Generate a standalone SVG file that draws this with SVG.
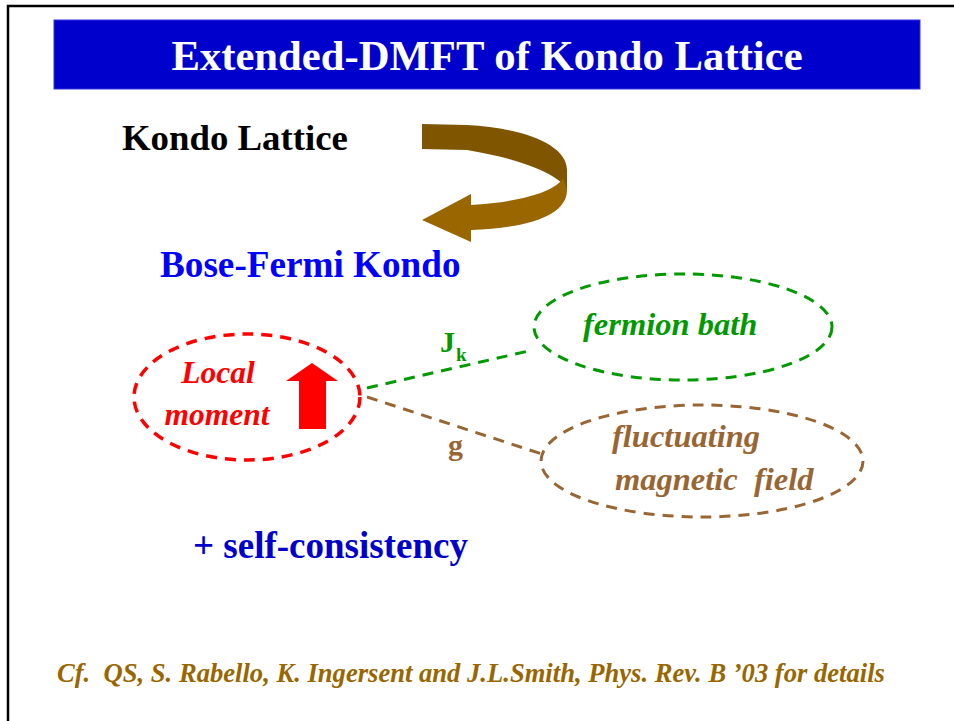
<svg xmlns="http://www.w3.org/2000/svg" width="954" height="721" viewBox="0 0 954 721">
<style>
.serif{font-family:"Liberation Serif","Times New Roman",serif;font-weight:bold}
.it{font-style:italic}
.dash{fill:none;stroke-dasharray:11 8}
</style>
<rect width="954" height="721" fill="#ffffff"/>
<path d="M8,721 L8,6 L954,6" fill="none" stroke="#000000" stroke-width="2.5"/>
<g id="title">
<rect x="54" y="20" width="866" height="69" fill="#0000CC" stroke="#3333DD" stroke-width="1"/>
<text x="487" y="70" class="serif" font-size="42.7" fill="#ffffff" text-anchor="middle">Extended-DMFT of Kondo Lattice</text>
</g>
<g id="kondo-lattice">
<text x="122" y="150" class="serif" font-size="36.8" fill="#000000">Kondo Lattice</text>
</g>
<g id="curved-arrow">
<path d="M422,124 L467,125 C525,128 567,145 567,170 L567,192 C567,182 540,162 467,150 L422,149 Z" fill="#7F5500"/>
<path d="M471,205 C520,202 555,192 563,178 L567,190 C567,215 530,228 471,230 L471,242 L422,220 L471,194 Z" fill="#996600"/>
</g>
<g id="bose-fermi">
<text x="160" y="277" class="serif" font-size="37.2" fill="#0000FF">Bose-Fermi Kondo</text>
</g>
<g id="connectors">
<line x1="367" y1="388" x2="533" y2="350" class="dash" stroke="#009900" stroke-width="3"/>
<line x1="367" y1="397" x2="542" y2="454" class="dash" stroke="#996633" stroke-width="3"/>
<text x="440" y="352" class="serif" font-size="30" fill="#009900">J</text>
<text x="456" y="361" class="serif" font-size="19" fill="#009900">k</text>
<text x="448" y="455" class="serif" font-size="30" fill="#996633">g</text>
</g>
<g id="local-moment">
<ellipse cx="247" cy="397" rx="113" ry="63" class="dash" stroke="#FF0000" stroke-width="3.5"/>
<text x="218" y="383" class="serif it" font-size="31.5" fill="#FF0000" text-anchor="middle">Local</text>
<text x="217" y="425" class="serif it" font-size="31.5" fill="#FF0000" text-anchor="middle">moment</text>
<path d="M312,363 L338,381 L326,381 L326,429 L299,429 L299,381 L286,381 Z" fill="#FF0000"/>
</g>
<g id="fermion-bath">
<ellipse cx="683" cy="327" rx="149" ry="53" class="dash" stroke="#009900" stroke-width="3"/>
<text x="583" y="335" class="serif it" font-size="32.5" fill="#009900">fermion bath</text>
</g>
<g id="magnetic-field">
<ellipse cx="702" cy="461" rx="161" ry="56" class="dash" stroke="#996633" stroke-width="3"/>
<text x="612" y="447" class="serif it" font-size="32.5" fill="#996633">fluctuating</text>
<text x="615" y="490" class="serif it" font-size="32.5" fill="#996633" xml:space="preserve">magnetic  field</text>
</g>
<g id="self-consistency">
<text x="193" y="558" class="serif" font-size="37" fill="#0000CC">+ self-consistency</text>
</g>
<g id="footer">
<text x="57" y="682" class="serif it" font-size="26.6" fill="#996600" xml:space="preserve">Cf.  QS, S. Rabello, K. Ingersent and J.L.Smith, Phys. Rev. B ’03 for details</text>
</g>
</svg>
